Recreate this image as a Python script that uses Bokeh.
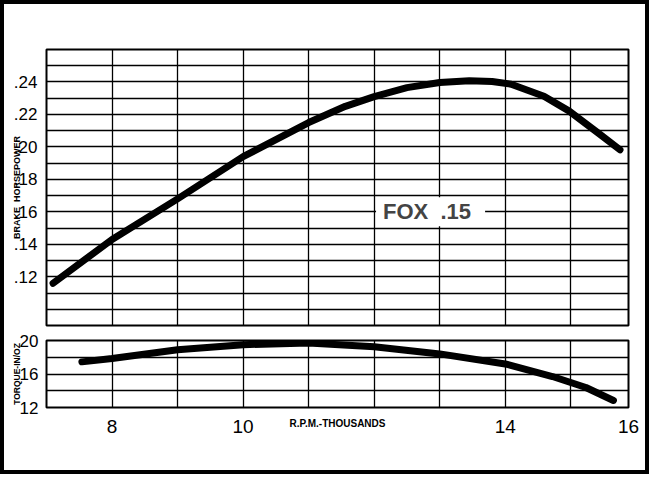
from bokeh.plotting import figure
from bokeh.models import Range1d, FixedTicker, Label
from bokeh.layouts import column
from bokeh.embed import file_html
from bokeh.resources import INLINE

# ---- data ----
rpm_hp = [7.1, 8, 9, 10, 11, 11.56, 12, 12.5, 13, 13.45, 13.8, 14.09, 14.59, 14.97, 15.41, 15.75]
bhp = [0.116, 0.143, 0.168, 0.194, 0.215, 0.225, 0.231, 0.2365, 0.2397, 0.2408,
       0.2403, 0.2386, 0.2312, 0.2222, 0.2088, 0.1982]
rpm_tq = [7.54, 8, 9, 10, 11, 12, 13, 14, 14.72, 15.23, 15.65]
torque = [17.45, 17.85, 18.9, 19.5, 19.7, 19.25, 18.4, 17.2, 15.7, 14.39, 12.84]

# the chart's "16" label sits at the right edge of the grid
x_ticks = [8, 10, 14, 15.88]
x_tick_labels = ["8", "10", "14", "16"]
x_grid = [8, 9, 10, 11, 12, 13, 14, 15]
hp_ticks = [0.12, 0.14, 0.16, 0.18, 0.20, 0.22, 0.24]
hp_tick_labels = [".12", ".14", ".16", ".18", ".20", ".22", ".24"]
hp_grid = [0.10, 0.11, 0.12, 0.13, 0.14, 0.15, 0.16, 0.17, 0.18, 0.19,
           0.20, 0.21, 0.22, 0.23, 0.24, 0.25]
tq_ticks = [12, 16, 20]
tq_grid = [14, 16, 18]

FONT = "Liberation Sans"
NB = "\u00a0"
xr = Range1d(7, 15.88)


def style(p):
    p.background_fill_color = "white"
    p.border_fill_color = "white"
    p.outline_line_color = "black"
    p.outline_line_width = 2
    p.grid.grid_line_color = "black"
    p.grid.grid_line_width = 1.3
    p.grid.grid_line_alpha = 1
    for ax in p.axis:
        ax.axis_line_color = None
        ax.major_tick_line_color = None
        ax.minor_tick_line_color = None
        ax.major_label_text_font = FONT
        ax.major_label_text_color = "black"
        ax.axis_label_text_font = FONT
        ax.axis_label_text_font_style = "bold"
        ax.axis_label_text_color = "black"


# ---- upper: brake horsepower ----
p1 = figure(width=641, height=323, x_range=xr, y_range=Range1d(0.09, 0.26),
            x_axis_location=None, output_backend="svg", toolbar_location=None,
            min_border_left=42, min_border_right=17, min_border_top=45, min_border_bottom=2)
style(p1)
p1.xgrid.ticker = FixedTicker(ticks=x_grid)
p1.ygrid.ticker = FixedTicker(ticks=hp_grid)
p1.yaxis.ticker = FixedTicker(ticks=hp_ticks)
p1.yaxis.major_label_overrides = dict(zip(hp_ticks, hp_tick_labels))
p1.yaxis.major_label_text_font_size = "17px"
p1.yaxis.major_label_standoff = 3
p1.yaxis.axis_label = "BRAKE" + NB + NB + "HORSEPOWER"
p1.yaxis.axis_label_text_font_size = "9px"
p1.yaxis.axis_label_standoff = -11
p1.line(rpm_hp, bhp, line_color="black", line_width=7, line_cap="round", line_join="round")
p1.add_layout(Label(x=12.86, y=0.16, text="FOX" + NB + NB + ".15", text_align="center",
                    text_baseline="middle",
                    text_font=FONT, text_font_style="bold", text_font_size="22px",
                    background_fill_color="white",
                    padding=dict(left=7, right=14, top=2, bottom=2)))

# ---- lower: torque ----
p2 = figure(width=641, height=143, x_range=xr, y_range=Range1d(12, 20),
            output_backend="svg", toolbar_location=None,
            min_border_left=42, min_border_right=17, min_border_top=13, min_border_bottom=63)
style(p2)
p2.xgrid.ticker = FixedTicker(ticks=x_grid)
p2.ygrid.ticker = FixedTicker(ticks=tq_grid)
p2.yaxis.ticker = FixedTicker(ticks=tq_ticks)
p2.xaxis.ticker = FixedTicker(ticks=x_ticks)
p2.xaxis.major_label_overrides = dict(zip(x_ticks, x_tick_labels))
p2.yaxis.major_label_text_font_size = "17px"
p2.xaxis.major_label_text_font_size = "19px"
p2.yaxis.major_label_standoff = 2
p2.xaxis.major_label_standoff = 6
p2.yaxis.axis_label = "TORQUE-IN/OZ"
p2.yaxis.axis_label_text_font_size = "8.5px"
p2.yaxis.axis_label_standoff = -5
p2.xaxis.axis_label = "R.P.M.-THOUSANDS"
p2.xaxis.axis_label_text_font_size = "10px"
p2.xaxis.axis_label_standoff = -18
p2.line(rpm_tq, torque, line_color="black", line_width=7, line_cap="round", line_join="round")

layout = column(p1, p2, styles={"border": "4px solid black"})

open("out.html", "w").write(file_html(layout, INLINE))
